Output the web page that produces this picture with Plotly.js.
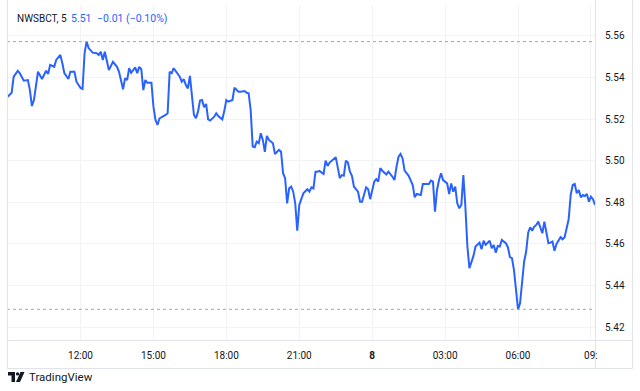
<!DOCTYPE html>
<html><head><meta charset="utf-8">
<script src="https://cdn.plot.ly/plotly-3.0.1.min.js"></script>
<style>html,body{margin:0;padding:0;background:#fff;}#chart{width:640px;height:391px;}</style>
</head><body><div id="chart"></div>
<script>
const symbol = "NWSBCT, 5";
const lastPrice = "5.51";
const changeText = "\u22120.01 (\u22120.10%)";
const brand = "TradingView";

const times = ["09:00","09:10","09:15","09:25","09:30","09:40","09:50","09:55","10:00","10:05","10:15","10:25","10:35","10:40","10:45","10:55","11:00","11:10","11:15","11:20","11:30","11:35","11:45","11:50","12:00","12:05","12:10","12:15","12:20","12:30","12:40","12:45","12:50","12:55","13:00","13:05","13:10","13:20","13:30","13:35","13:45","13:50","13:55","14:00","14:05","14:15","14:20","14:25","14:30","14:35","14:40","14:45","14:55","15:00","15:05","15:10","15:15","15:30","15:35","15:40","15:45","15:50","15:55","16:05","16:10","16:15","16:20","16:25","16:30","16:35","16:40","16:45","16:50","16:55","17:00","17:05","17:10","17:15","17:20","17:30","17:35","17:40","17:50","17:55","18:00","18:05","18:15","18:20","18:30","18:35","18:45","18:50","18:55","19:00","19:05","19:10","19:15","19:20","19:25","19:30","19:35","19:40","19:45","19:55","20:00","20:10","20:15","20:20","20:25","20:30","20:35","20:40","20:45","20:50","20:55","21:00","21:05","21:10","21:20","21:25","21:30","21:35","21:40","21:45","21:50","21:55","22:00","22:05","22:10","22:15","22:20","22:30","22:35","22:40","22:45","22:50","22:55","23:00","23:05","23:10","23:15","23:25","23:30","23:35","23:45","23:50","23:55","00:05","00:10","00:15","00:20","00:25","00:35","00:40","00:50","00:55","01:00","01:05","01:10","01:15","01:20","01:30","01:40","01:45","01:50","02:00","02:05","02:10","02:20","02:25","02:30","02:35","02:40","02:45","02:50","02:55","03:05","03:10","03:15","03:20","03:25","03:30","03:35","03:40","03:45","03:50","03:55","04:00","04:05","04:10","04:15","04:25","04:30","04:35","04:40","04:50","04:55","05:00","05:05","05:10","05:15","05:20","05:30","05:35","05:40","05:45","05:50","05:55","06:00","06:05","06:10","06:15","06:20","06:25","06:30","06:35","06:40","06:45","06:50","06:55","07:00","07:05","07:10","07:15","07:20","07:25","07:30","07:35","07:45","07:50","07:55","08:05","08:10","08:15","08:20","08:25","08:30","08:35","08:40","08:45","08:50","08:55","09:00","09:05","09:10"];

const prices = [5.5308,5.5327,5.5404,5.5432,5.5421,5.5385,5.5388,5.534,5.5263,5.5292,5.5428,5.5393,5.5433,5.5417,5.5461,5.5452,5.5485,5.5509,5.547,5.5422,5.5393,5.5428,5.5428,5.538,5.535,5.5345,5.5518,5.5573,5.5542,5.552,5.5517,5.5509,5.5524,5.5485,5.5524,5.547,5.5436,5.5476,5.5452,5.5428,5.5344,5.5397,5.5388,5.5445,5.5423,5.5449,5.5421,5.5452,5.544,5.534,5.5388,5.5375,5.5375,5.526,5.5196,5.5172,5.5204,5.522,5.5228,5.5428,5.5421,5.5445,5.5433,5.5404,5.538,5.5392,5.5364,5.5348,5.5408,5.5308,5.522,5.5204,5.5236,5.5289,5.5292,5.5257,5.5273,5.5199,5.5193,5.5212,5.5228,5.5215,5.5199,5.5241,5.5292,5.5284,5.5292,5.5351,5.5332,5.5332,5.5335,5.5327,5.5324,5.5244,5.5068,5.5065,5.5092,5.5084,5.5132,5.51,5.5043,5.5119,5.51,5.5084,5.5032,5.5052,5.5043,5.494,5.4916,5.4795,5.4867,5.4875,5.4851,5.4795,5.4663,5.4787,5.4819,5.4843,5.4863,5.4851,5.4872,5.4867,5.4947,5.4947,5.4951,5.4942,5.4936,5.50,5.4975,5.4991,5.50,5.5017,5.4968,5.4916,5.4931,5.4928,5.50,5.4991,5.4947,5.4927,5.4875,5.4851,5.4803,5.4803,5.4872,5.4863,5.4815,5.4899,5.4911,5.4899,5.4964,5.4952,5.4934,5.4947,5.4923,5.4907,5.4971,5.5019,5.5032,5.5011,5.4952,5.4927,5.4883,5.4824,5.484,5.4835,5.4888,5.4887,5.4888,5.4904,5.4899,5.4755,5.4859,5.4907,5.494,5.4907,5.4891,5.484,5.4891,5.4851,5.4875,5.4795,5.4771,5.4787,5.4931,5.4779,5.4587,5.4483,5.4514,5.4542,5.4587,5.4606,5.4574,5.4615,5.4595,5.4615,5.4579,5.4595,5.4558,5.459,5.4587,5.4619,5.4603,5.4584,5.4536,5.4531,5.4474,5.4362,5.4285,5.4314,5.4411,5.4514,5.4562,5.4654,5.468,5.4663,5.4683,5.4691,5.4707,5.468,5.4651,5.4707,5.4659,5.4603,5.4606,5.4611,5.4567,5.46,5.4632,5.4622,5.4632,5.4718,5.4835,5.4883,5.4888,5.4843,5.4859,5.4824,5.4835,5.483,5.484,5.4803,5.4827,5.4815,5.4787];

const tickTimes = ["12:00","15:00","18:00","21:00","00:00","03:00","06:00","09:00"];
const tickLabels = ["12:00","15:00","18:00","21:00","<b>8</b>","03:00","06:00","09:"];
const priceTicks = [5.42,5.44,5.46,5.48,5.50,5.52,5.54,5.56];

// build datetimes: the session starts on day 7 and rolls over to day 8 at midnight
function toDates(arr, startDay) {
  let day = startDay, prev = -1;
  return arr.map(t => {
    const [h, m] = t.split(":").map(Number);
    const mins = h * 60 + m;
    if (prev >= 0 && mins < prev) day += 1;
    prev = mins;
    return "2025-01-0" + day + " " + t;
  });
}
const xDates = toDates(times, 7);
const tickDates = toDates(["09:00"].concat(tickTimes), 7).slice(1);

// geometry helpers (pixel -> paper)
const W = 640, H = 391, ML = 7, MR = 45, MT = 5, MB = 51;
const PW = W - ML - MR, PH = H - MT - MB;
const px = x => (x - ML) / PW;
const py = y => (H - MB - y) / PH;

const hi = Math.max(...prices), lo = Math.min(...prices);
const textColor = "#131722";
const border = "#e0e3eb";
const grid = "#f2f3f6";

const shapes = [
  {type:"line", xref:"paper", yref:"y", x0:0, x1:1, y0:hi, y1:hi, line:{color:"#a3a6af", width:1, dash:"dot"}},
  {type:"line", xref:"paper", yref:"y", x0:0, x1:1, y0:lo, y1:lo, line:{color:"#a3a6af", width:1, dash:"dot"}},
  // pane frame
  {type:"line", xref:"paper", yref:"paper", x0:px(7), x1:px(632.5), y0:py(340.5), y1:py(340.5), line:{color:border, width:1}},
  {type:"line", xref:"paper", yref:"paper", x0:px(7), x1:px(632.5), y0:py(368.5), y1:py(368.5), line:{color:border, width:1}},
  {type:"line", xref:"paper", yref:"paper", x0:px(7.5), x1:px(7.5), y0:py(0), y1:py(368.5), line:{color:border, width:1}},
  {type:"line", xref:"paper", yref:"paper", x0:px(595.5), x1:px(595.5), y0:py(0), y1:py(368.5), line:{color:border, width:1}},
  {type:"line", xref:"paper", yref:"paper", x0:px(632.5), x1:px(632.5), y0:py(0), y1:py(368.5), line:{color:border, width:1}},
  // TradingView logo mark
  {type:"path", xref:"paper", yref:"paper", fillcolor:textColor, line:{width:0},
   path:`M ${px(8)} ${py(372)} L ${px(15)} ${py(372)} L ${px(15)} ${py(382)} L ${px(11.5)} ${py(382)} L ${px(11.5)} ${py(375.5)} L ${px(8)} ${py(375.5)} Z`},
  {type:"circle", xref:"paper", yref:"paper", fillcolor:textColor, line:{width:0},
   x0:px(15.9), x1:px(19.3), y0:py(375.6), y1:py(372.2)},
  {type:"path", xref:"paper", yref:"paper", fillcolor:textColor, line:{width:0},
   path:`M ${px(20.5)} ${py(372)} L ${px(24.5)} ${py(372)} L ${px(20)} ${py(382)} L ${px(16)} ${py(382)} Z`}
];

const font = "Roboto, 'Liberation Sans', sans-serif";
const annotations = [
  {xref:"paper", yref:"paper", x:px(15), y:py(19), xanchor:"left", yanchor:"middle", showarrow:false,
   text:symbol, font:{family:font, size:10, color:textColor}},
  {xref:"paper", yref:"paper", x:px(69), y:py(19), xanchor:"left", yanchor:"middle", showarrow:false,
   text:lastPrice, font:{family:font, size:10.5, color:"#2962ff"}},
  {xref:"paper", yref:"paper", x:px(95), y:py(19), xanchor:"left", yanchor:"middle", showarrow:false,
   text:changeText, font:{family:font, size:10.5, color:"#2962ff"}},
  {xref:"paper", yref:"paper", x:px(26.5), y:py(377), xanchor:"left", yanchor:"middle", showarrow:false,
   text:brand, font:{family:font, size:11.5, color:textColor}}
];

const trace = {
  x: xDates, y: prices, type:"scatter", mode:"lines",
  line:{color:"#2962ff", width:2}, hoverinfo:"skip", showlegend:false
};

const layout = {
  width: W, height: H,
  margin:{l:ML, r:MR, t:MT, b:MB, pad:0},
  paper_bgcolor:"#ffffff", plot_bgcolor:"#ffffff",
  showlegend:false,
  xaxis:{type:"date", range:["2025-01-07 08:58:30","2025-01-08 09:10"],
    tickmode:"array", tickvals:tickDates, ticktext:tickLabels,
    showgrid:true, gridcolor:grid, gridwidth:1, zeroline:false, showline:false,
    ticks:"outside", ticklen:6, tickcolor:"rgba(0,0,0,0)",
    tickfont:{family:font, size:10, color:textColor}, fixedrange:true},
  yaxis:{side:"right", range:[5.41375, 5.57491], tickmode:"array", tickvals:priceTicks,
    ticktext:priceTicks.map(v => v.toFixed(2)),
    showgrid:true, gridcolor:grid, gridwidth:1, zeroline:false, showline:false,
    ticks:"outside", ticklen:7, tickcolor:"rgba(0,0,0,0)",
    tickfont:{family:font, size:10, color:textColor}, fixedrange:true},
  shapes: shapes,
  annotations: annotations
};

Plotly.newPlot("chart", [trace], layout, {displayModeBar:false, staticPlot:true});
</script>
</body></html>
